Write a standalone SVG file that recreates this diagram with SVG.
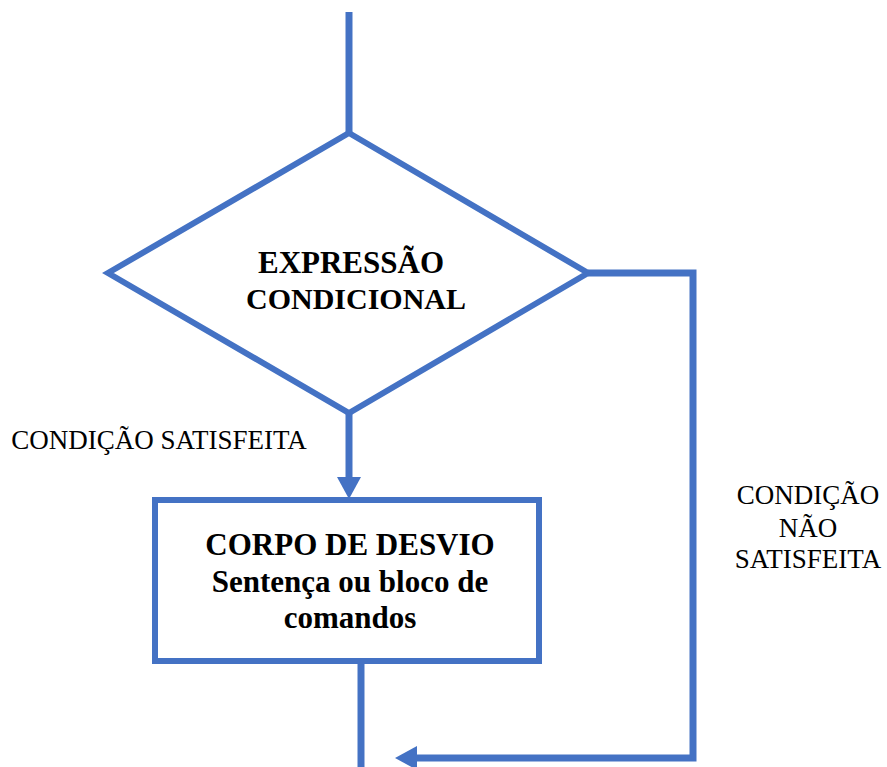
<svg xmlns="http://www.w3.org/2000/svg" width="887" height="767" viewBox="0 0 887 767">
<style>
.ln{fill:none;stroke:#4472C4;stroke-width:7;stroke-linejoin:miter}
.shape{fill:#FFFFFF;stroke:#4472C4;stroke-width:6}
.bold{font-family:"Liberation Serif","Times New Roman",serif;font-weight:bold;fill:#000;text-anchor:middle}
.reg{font-family:"Liberation Serif","Times New Roman",serif;font-size:27px;fill:#000;text-anchor:middle}
</style>
<defs>
<marker id="arr" viewBox="0 0 22 24" refX="0" refY="12" markerWidth="22" markerHeight="24" markerUnits="userSpaceOnUse" orient="auto">
<path d="M0,0 L22,12 L0,24 z" fill="#4472C4"/>
</marker>
</defs>
<g id="connectors">
<line class="ln" x1="349" y1="12" x2="349" y2="133"/>
<line class="ln" x1="349" y1="413" x2="349" y2="477" marker-end="url(#arr)"/>
<polyline class="ln" points="588,273 693,273 693,758 417,758" marker-end="url(#arr)"/>
<line class="ln" x1="361" y1="661" x2="361" y2="767"/>
</g>
<g id="decision">
<polygon class="shape" points="349,133 588,273 349,413 108,273"/>
<text class="bold" font-size="31" x="351" y="273">EXPRESSÃO</text>
<text class="bold" font-size="30" x="356" y="309">CONDICIONAL</text>
</g>
<g id="body">
<rect class="shape" x="155" y="500" width="384" height="161"/>
<text class="bold" font-size="31" x="350" y="555">CORPO DE DESVIO</text>
<text class="bold" font-size="31" x="350" y="592">Sentença ou bloco de</text>
<text class="bold" font-size="31" x="350" y="628">comandos</text>
</g>
<g id="label-yes">
<text class="reg" x="159" y="449">CONDIÇÃO SATISFEITA</text>
</g>
<g id="label-no">
<text class="reg" x="808" y="504">CONDIÇÃO</text>
<text class="reg" x="808" y="537">NÃO</text>
<text class="reg" x="808" y="568">SATISFEITA</text>
</g>
</svg>
